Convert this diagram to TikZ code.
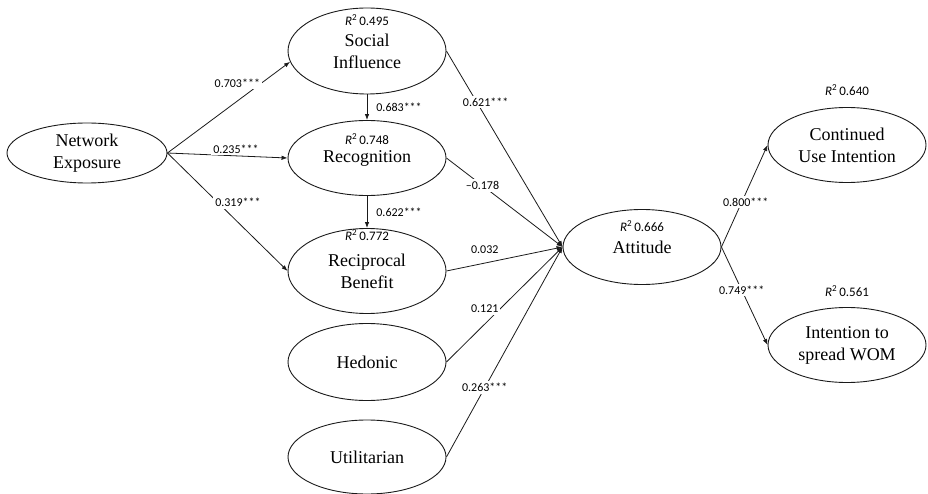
\documentclass[tikz,border=0pt]{standalone}
\usepackage{fontspec}
\setmainfont{Liberation Serif}
\newfontfamily\coeffont[Ligatures=TeX]{Carlito}
\usetikzlibrary{arrows.meta,shapes.geometric}
\definecolor{ink}{HTML}{1a1a1a}
\tikzset{
  construct/.style={ellipse,draw=ink,line width=0.9pt,minimum width=158pt,
              inner sep=0pt,align=center,font=\fontsize{18}{22}\selectfont},
  coef/.style={fill=white,inner sep=2pt,font=\coeffont\fontsize{12}{14}\selectfont},
  rsq/.style={inner sep=0pt,font=\coeffont\fontsize{13}{15}\selectfont},
  pathline/.style={-{Latex[length=6pt,width=4.5pt]},line width=0.8pt,draw=ink},
}
\newcommand{\Rsq}[1]{\textit{R}\textsuperscript{2}\,#1}

\begin{document}
\begin{tikzpicture}[x=1pt,y=-1pt]
  \useasboundingbox (0,0) rectangle (928,494);
  % constructs
  \node[construct,minimum width=160pt,minimum height=60pt] (ne) at (87,153) {Network\\Exposure};
  \node[construct,minimum height=86pt] (si) at (367,51) {Social\\Influence};
  \node[construct,minimum height=75pt] (rec) at (367,158) {Recognition};
  \node[construct,minimum height=85pt] (rb) at (367,271) {Reciprocal\\Benefit};
  \node[construct,minimum height=77pt] (hed) at (367,362) {Hedonic};
  \node[construct,minimum height=74pt] (uti) at (367,457) {Utilitarian};
  \node[construct,minimum height=75pt] (att) at (642,247) {Attitude};
  \node[construct,minimum height=75pt] (cui) at (847,145) {Continued\\Use Intention};
  \node[construct,minimum height=75pt] (wom) at (847,345) {Intention to\\spread WOM};
  % explained variance
  \node[rsq] (si-r2) at (367,20) {\Rsq{0.495}};
  \node[rsq] (rec-r2) at (367,139) {\Rsq{0.748}};
  \node[rsq] (rb-r2) at (367,235) {\Rsq{0.772}};
  \node[rsq] (att-r2) at (642,226) {\Rsq{0.666}};
  \node[rsq] (cui-r2) at (847,90) {\Rsq{0.640}};
  \node[rsq] (wom-r2) at (847,291) {\Rsq{0.561}};
  % paths
  \draw[pathline] (ne.east) -- (si.188) node[coef,pos=0.57,yshift=18pt]{0.703***};
  \draw[pathline] (ne.east) -- (rec.west) node[coef,pos=0.57,yshift=7pt]{0.235***};
  \draw[pathline] (ne.east) -- (rb.west) node[coef,pos=0.42,xshift=20pt]{0.319***};
  \draw[pathline] (si.south) -- (rec.north) node[coef,midway,right=7pt,fill=none]{0.683***};
  \draw[pathline] (rec.south) -- (rb.north) node[coef,midway,right=7pt,fill=none]{0.622***};
  \draw[pathline] (si.east) -- (att.west) node[coef,pos=0.26,xshift=9pt]{0.621***};
  \draw[pathline] (rec.east) -- (att.west) node[coef,pos=0.31]{–0.178};
  \draw[pathline] (rb.east) -- (att.west) node[coef,pos=0.33,yshift=13pt]{0.032};
  \draw[pathline] (hed.east) -- (att.west) node[coef,pos=0.33,yshift=15pt]{0.121};
  \draw[pathline] (uti.east) -- (att.west) node[coef,pos=0.33]{0.263***};
  \draw[pathline] (att.east) -- (cui.west) node[coef,pos=0.44,xshift=4pt]{0.800***};
  \draw[pathline] (att.east) -- (wom.west) node[coef,pos=0.44]{0.749***};
\end{tikzpicture}
\end{document}
